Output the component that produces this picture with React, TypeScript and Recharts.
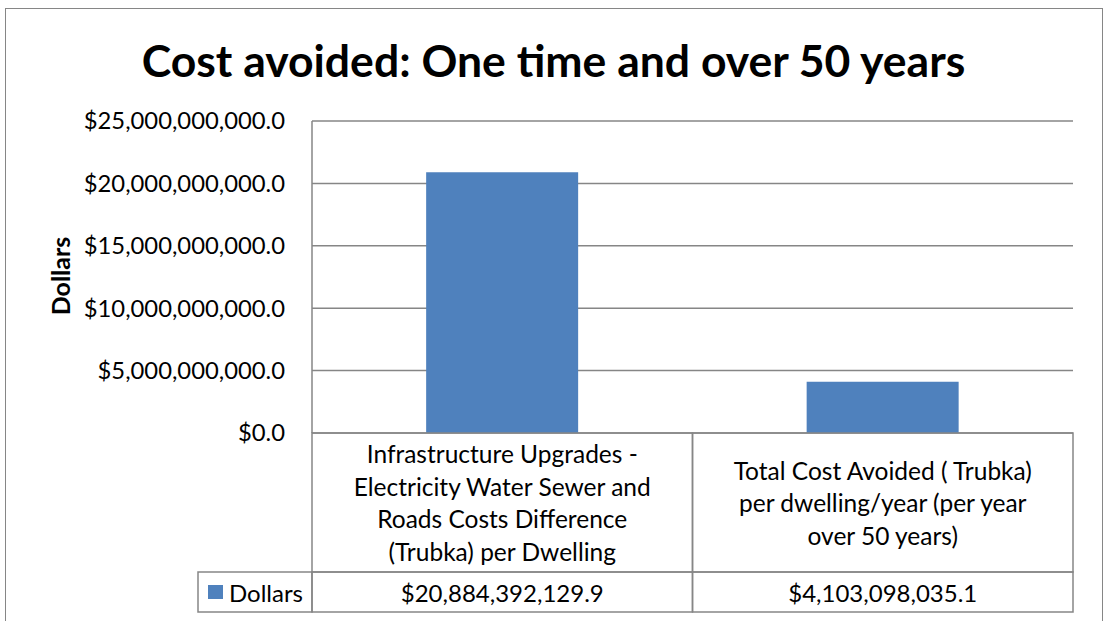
import { Bar, BarChart, CartesianGrid, XAxis, YAxis } from "recharts";

const categoryLines = [
  ["Infrastructure Upgrades -", "Electricity Water Sewer and", "Roads Costs Difference", "(Trubka) per Dwelling"],
  ["Total Cost Avoided ( Trubka)", "per dwelling/year (per year", "over 50 years)"],
];
const dollars = [20884392129.9, 4103098035.1];
const yTicks = [0, 5000000000, 10000000000, 15000000000, 20000000000, 25000000000];
const seriesName = "Dollars";

const data = categoryLines.map((lines, i) => ({ name: lines.join(" "), dollars: dollars[i] }));

const FONT = "Lato, 'Open Sans', sans-serif";
const GRID = "#868686";
const BAR = "#4F81BD";
const TEXT_SIZE = 24;

const W = 1107;
const H = 621;
const PLOT_LEFT = 312;
const PLOT_RIGHT = 1073;
const PLOT_TOP = 121;
const PLOT_BOTTOM = 433;
const ROW_SPLIT = 572;
const TABLE_BOTTOM = 612;
const LEGEND_LEFT = 198;
const LINE_H = 32.5;

const money = (v: number) =>
  "$" + v.toLocaleString("en-US", { minimumFractionDigits: 1, maximumFractionDigits: 1 });

function TableTick(props: any) {
  const { x, index } = props;
  const band = (PLOT_RIGHT - PLOT_LEFT) / categoryLines.length;
  const left = x - band / 2;
  const lines = categoryLines[index];
  const mid = (PLOT_BOTTOM + ROW_SPLIT) / 2;
  const first = mid - ((lines.length - 1) * LINE_H) / 2;
  return (
    <g>
      <rect x={left} y={PLOT_BOTTOM} width={band} height={ROW_SPLIT - PLOT_BOTTOM} fill="none" stroke={GRID} strokeWidth={1.5} />
      <rect x={left} y={ROW_SPLIT} width={band} height={TABLE_BOTTOM - ROW_SPLIT} fill="none" stroke={GRID} strokeWidth={1.5} />
      {lines.map((l, i) => (
        <text key={i} x={x} y={first + i * LINE_H} textAnchor="middle" dominantBaseline="central" fontSize={24.5} fontFamily={FONT} fill="#000">
          {l}
        </text>
      ))}
      <text x={x} y={(ROW_SPLIT + TABLE_BOTTOM) / 2} textAnchor="middle" dominantBaseline="central" fontSize={TEXT_SIZE} fontFamily={FONT} fill="#000">
        {money(dollars[index])}
      </text>
      {index === 0 && (
        <g>
          <rect x={LEGEND_LEFT} y={ROW_SPLIT} width={PLOT_LEFT - LEGEND_LEFT} height={TABLE_BOTTOM - ROW_SPLIT} fill="none" stroke={GRID} strokeWidth={1.5} />
          <rect x={208} y={585} width={15} height={14} fill={BAR} />
          <text x={229} y={(ROW_SPLIT + TABLE_BOTTOM) / 2} dominantBaseline="central" fontSize={TEXT_SIZE} fontFamily={FONT} fill="#000">
            {seriesName}
          </text>
        </g>
      )}
    </g>
  );
}

export default function App() {
  return (
    <div style={{ position: "absolute", left: 0, top: 0, width: W, height: H, background: "#fff", overflow: "hidden" }}>
      <div style={{ position: "absolute", left: 5, top: 8, width: 1096, height: 640, border: `1.5px solid ${GRID}` }} />
      <div
        style={{
          position: "absolute",
          left: 0,
          top: 32,
          width: W,
          textAlign: "center",
          fontFamily: FONT,
          fontWeight: 700,
          fontSize: 44.5,
          lineHeight: "56px",
          color: "#000",
        }}
      >
        Cost avoided: One time and over 50 years
      </div>
      <div
        style={{
          position: "absolute",
          left: 60,
          top: 276,
          transform: "translate(-50%, -50%) rotate(-90deg)",
          fontFamily: FONT,
          fontWeight: 700,
          fontSize: 25,
          color: "#000",
          whiteSpace: "nowrap",
        }}
      >
        {seriesName}
      </div>
      <div style={{ position: "absolute", left: 0, top: 0 }}>
        <BarChart
          width={W}
          height={H}
          data={data}
          barCategoryGap="30%"
          margin={{ top: PLOT_TOP, right: W - PLOT_RIGHT, bottom: 8, left: 82 }}
        >
          <CartesianGrid horizontal vertical={false} stroke={GRID} strokeWidth={1.5} />
          <XAxis
            dataKey="name"
            height={H - 8 - PLOT_BOTTOM}
            axisLine={false}
            tickLine={false}
            interval={0}
            tick={<TableTick />}
          />
          <YAxis
            width={PLOT_LEFT - 82}
            domain={[0, 25000000000]}
            ticks={yTicks}
            tickFormatter={money}
            tickLine={false}
            tickSize={0}
            tickMargin={27}
            axisLine={{ stroke: GRID, strokeWidth: 1.5 }}
            tick={{ fill: "#000", fontSize: 23.8, fontFamily: FONT }}
          />
          <Bar dataKey="dollars" fill={BAR} isAnimationActive={false} />
        </BarChart>
      </div>
    </div>
  );
}
